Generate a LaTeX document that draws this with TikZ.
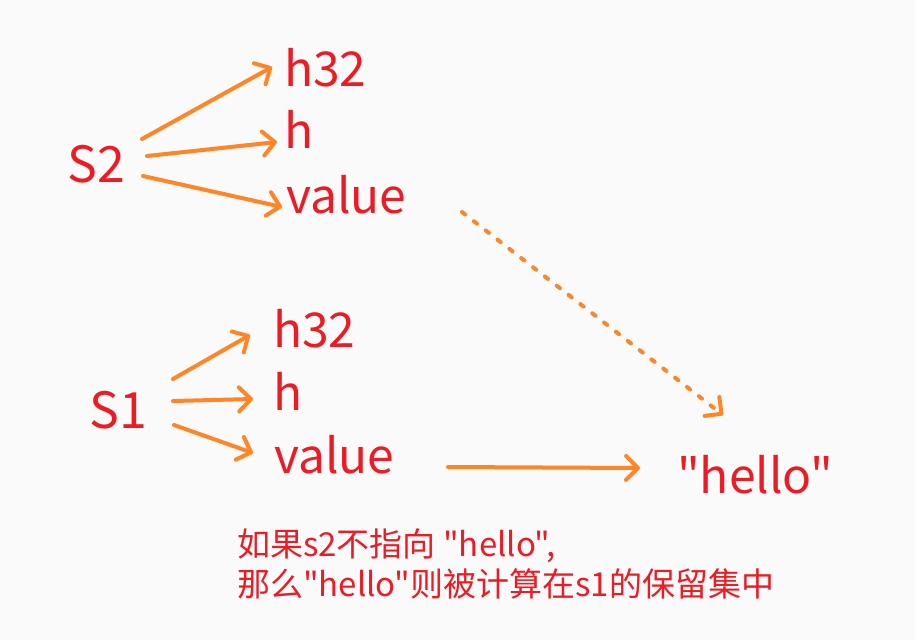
\documentclass[tikz,border=0pt]{standalone}
\usepackage{fontspec}
\setmainfont{Noto Sans CJK SC}[Ligatures=TeXOff]
\usetikzlibrary{arrows.meta}
\definecolor{txtred}{RGB}{237,28,36}
\definecolor{linkorange}{RGB}{255,133,38}
\definecolor{paper}{RGB}{250,250,250}

\begin{document}
\begin{tikzpicture}[x=1pt, y=-1pt, >={Straight Barb[round, length=12pt, width=24pt]},
  every node/.style={inner sep=0pt, text=txtred, anchor=base west},
  var/.style={font=\fontsize{50}{60}\selectfont},
  field/.style={font=\fontsize{48}{56}\selectfont},
  link/.style={->, draw=linkorange, line width=4pt, line cap=round}]
  \fill[paper] (0,0) rectangle (915,640);
  % s2 and its fields
  \node[var] (s2) at (67,182) {S2};
  \node[field] (s2h32) at (284,86) {h32};
  \node[field] (s2h) at (284,148) {h};
  \node[field] (s2val) at (286,213) {value};
  \draw[link] ([shift={(75,-43)}]s2.base west) -- ([shift={(-12,-19)}]s2h32.base west);
  \draw[link] ([shift={(80,-26)}]s2.base west) -- ([shift={(-7,-6)}]s2h.base west);
  \draw[link] ([shift={(76,-6)}]s2.base west) -- ([shift={(-4,-6)}]s2val.base west);
  % s1 and its fields
  \node[var] (s1) at (89,428) {S1};
  \node[field] (s1h32) at (273,347) {h32};
  \node[field] (s1h) at (273,410) {h};
  \node[field] (s1val) at (274,473) {value};
  \draw[link] ([shift={(84,-49)}]s1.base west) -- ([shift={(-23,-12)}]s1h32.base west);
  \draw[link] ([shift={(84,-27)}]s1.base west) -- ([shift={(-20,-11)}]s1h.base west);
  \draw[link] ([shift={(85,-3)}]s1.base west) -- ([shift={(-21,-20)}]s1val.base west);
  % the string
  \node[field] (hello) at (677,493) {"hello"};
  \draw[link] ([shift={(174,-6)}]s1val.base west) -- ([shift={(-37,-25)}]hello.base west);
  \draw[link, dash pattern=on 4pt off 11pt] ([shift={(176,-1)}]s2val.base west) -- ([shift={(46,-78)}]hello.base west);
  \node[font=\fontsize{33}{40}\selectfont, align=left] (note) at (237,596)
    {如果s2不指向 "hello",\\那么"hello"则被计算在s1的保留集中};
\end{tikzpicture}
\end{document}
